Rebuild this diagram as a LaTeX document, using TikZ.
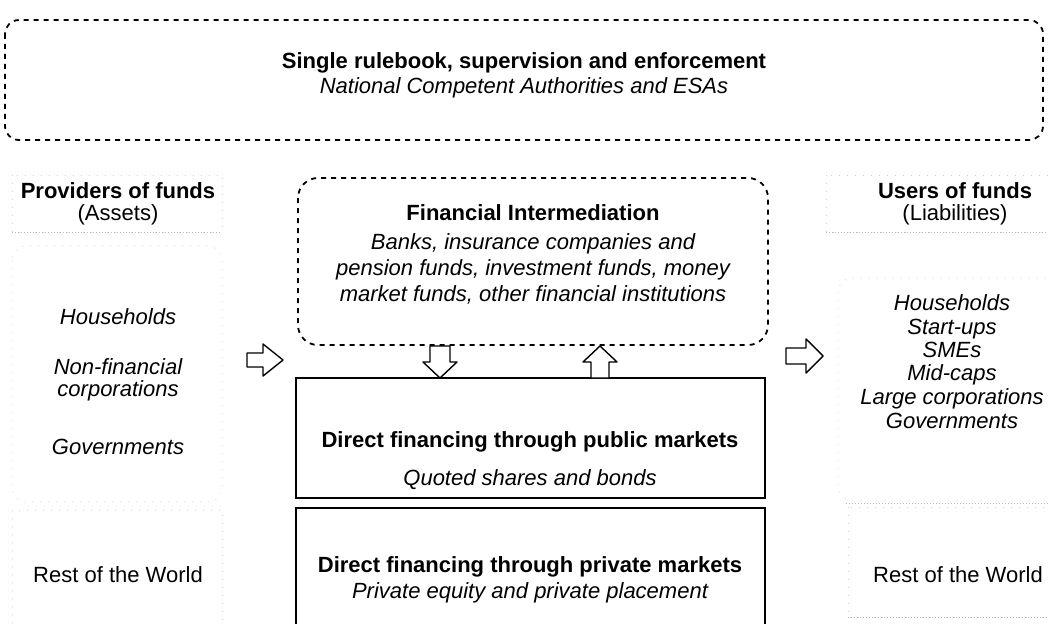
\documentclass[tikz,border=0pt]{standalone}
\usepackage{fontspec}
\setmainfont{Liberation Sans}
\newcommand\myfs{\fontsize{22}{26}\selectfont}
\begin{document}
\begin{tikzpicture}[x=1pt,y=-1pt,
  dashbox/.style={draw=black, line width=1.8pt, dash pattern=on 5pt off 5pt, rounded corners=14pt},
  solidbox/.style={draw=black, line width=1.6pt},
  faint/.style={draw=gray!35, line width=0.6pt, dash pattern=on 1pt off 7pt},
  faintline/.style={draw=gray!55, line width=0.7pt, dash pattern=on 1pt off 2pt},
  blockarrow/.style={draw=black, line width=1.4pt, fill=white, line join=round},
  t/.style={font=\myfs, inner sep=0pt, anchor=base},
  tb/.style={t, font=\myfs\bfseries},
  ti/.style={t, font=\myfs\itshape}]
\path[use as bounding box, fill=white] (0,0) rectangle (1048,623);

% top box
\draw[dashbox] (5,20) rectangle (1043,140);
\node[tb] (title) at (524,69) {Single rulebook, supervision and enforcement};
\node[ti] (subtitle) at (524,94) {National Competent Authorities and ESAs};

% left column
\draw[faint] (12,175) rectangle (222,232);
\draw[faintline] (12,232) -- (222,232);
\draw[faint, rounded corners=14pt] (12,246) rectangle (222,502);
\draw[faint] (12,510) rectangle (222,640);
\node[tb] (prov) at (118,198) {Providers of funds};
\node[t] (assets) at (118,220) {(Assets)};
\node[ti] (lhh) at (118,324) {Households};
\node[ti] (lnfc1) at (118,374) {Non-financial};
\node[ti] (lnfc2) at (118,396) {corporations};
\node[ti] (lgov) at (118,454) {Governments};
\node[t] (lrow) at (118,582) {Rest of the World};

% right column
\draw[faint] (826,175) rectangle (1060,232);
\draw[faintline] (826,232) -- (1048,232);
\draw[faint, rounded corners=14pt] (838,278) rectangle (1060,500);
\draw[faintline] (846,503) -- (1048,503);
\draw[faint] (848,507) rectangle (1060,617);
\draw[faintline] (848,617) -- (1048,617);
\node[tb] (users) at (955,198) {Users of funds};
\node[t] (liab) at (955,220) {(Liabilities)};
\node[ti] (rhh) at (952,310) {Households};
\node[ti] (rsu) at (952,334) {Start-ups};
\node[ti] (rsme) at (952,357) {SMEs};
\node[ti] (rmid) at (952,380) {Mid-caps};
\node[ti] (rlarge) at (952,404) {Large corporations};
\node[ti] (rgov) at (952,428) {Governments};
\node[t] (rrow) at (958,582) {Rest of the World};

% financial intermediation
\draw[dashbox, rounded corners=20pt] (298,178) rectangle (768,345);
\node (fi) at (533,261.5) {};
\node[tb] (fi1) at (533,220) {Financial Intermediation};
\node[ti] (fi2) at (533,249) {Banks, insurance companies and};
\node[ti] (fi3) at (533,275) {pension funds, investment funds, money};
\node[ti] (fi4) at (533,301) {market funds, other financial institutions};

% public markets
\draw[solidbox] (296,378) rectangle (765,498);
\node[tb] (pub1) at (530,447) {Direct financing through public markets};
\node[ti] (pub2) at (530,485) {Quoted shares and bonds};

% private markets
\draw[solidbox] (296,508) rectangle (765,640);
\node[tb] (priv1) at (530,572) {Direct financing through private markets};
\node[ti] (priv2) at (530,598) {Private equity and private placement};

% block arrows
\draw[blockarrow] (247,353) -- (263,353) -- (263,344) -- (283,360) -- (263,376) -- (263,367) -- (247,367) -- cycle;
\draw[blockarrow] (786,348) -- (806,348) -- (806,339) -- (823,356) -- (806,373) -- (806,364) -- (786,364) -- cycle;
\draw[blockarrow] (430,346) -- (450,346) -- (450,362) -- (457,362) -- (440,378) -- (423,362) -- (430,362) -- cycle;
\draw[blockarrow] (591,378) -- (591,362) -- (583,362) -- (600,346) -- (617,362) -- (609,362) -- (609,378) -- cycle;
\end{tikzpicture}
\end{document}
